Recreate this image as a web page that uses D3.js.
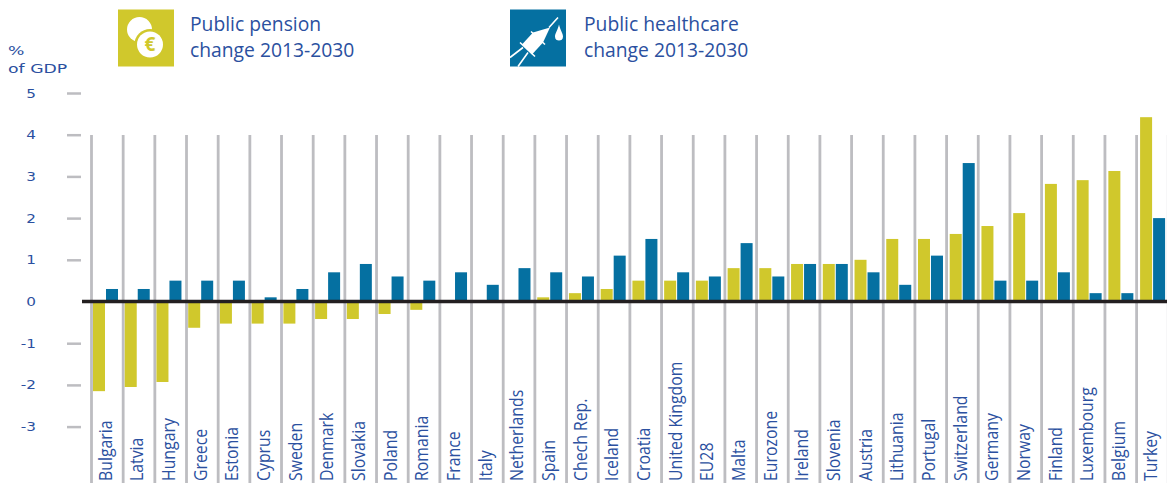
<!DOCTYPE html>
<html>
<head>
<meta charset="utf-8">
<script src="https://cdn.jsdelivr.net/npm/d3@7"></script>
<style>
  html, body { margin: 0; padding: 0; background: #fff; overflow: hidden; }
  text { font-family: "Open Sans", sans-serif; fill: #2b50a0; }
</style>
</head>
<body>
<script>
// values, % of GDP
var countries = ["Bulgaria","Latvia","Hungary","Greece","Estonia","Cyprus","Sweden","Denmark","Slovakia","Poland","Romania","France","Italy","Netherlands","Spain","Chech Rep.","Iceland","Croatia","United Kingdom","EU28","Malta","Eurozone","Ireland","Slovenia","Austria","Lithuania","Portugal","Switzerland","Germany","Norway","Finland","Luxembourg","Belgium","Turkey"];
var pension = [-2.15,-2.05,-1.93,-0.63,-0.53,-0.53,-0.53,-0.42,-0.42,-0.3,-0.2,0,0,0,0.1,0.2,0.3,0.5,0.5,0.5,0.8,0.8,0.9,0.9,1,1.5,1.5,1.62,1.81,2.12,2.82,2.91,3.13,4.42];
var health = [0.3,0.3,0.5,0.5,0.5,0.1,0.3,0.7,0.9,0.6,0.5,0.7,0.4,0.8,0.7,0.6,1.1,1.5,0.7,0.6,1.4,0.6,0.9,0.9,0.7,0.4,1.1,3.32,0.5,0.5,0.7,0.2,0.2,2];
var yTicks = [5,4,3,2,1,0,-1,-2,-3];
var legendLabels = [["Public pension","change 2013-2030"],["Public healthcare","change 2013-2030"]];

const width = 1167, height = 483;
const yellow = "#d0c82c", blue = "#0570a1", grey = "#bdbdc1";

const svg = d3.select("body").append("svg")
  .attr("width", width)
  .attr("height", height);

const y = d3.scaleLinear().domain([0, 5]).range([301.5, 93]);

// separators and bars drift slightly apart in the original, so two scales
const xSep = d3.scaleBand().domain(countries).range([91.5, 91.5 + 31.67 * 34]);
const xBar = d3.scaleBand().domain(countries).range([93, 93 + 31.73 * 34]);

// vertical separators
svg.selectAll("line.sep")
  .data(countries.concat(["end"]))
  .enter().append("line")
  .attr("class", "sep")
  .attr("x1", function(d, i) { return i < 34 ? xSep(d) : 91.5 + 31.67 * 34; })
  .attr("x2", function(d, i) { return i < 34 ? xSep(d) : 91.5 + 31.67 * 34; })
  .attr("y1", 135)
  .attr("y2", height)
  .attr("stroke", grey)
  .attr("stroke-width", 2.8);

// bars
svg.selectAll("rect.pension")
  .data(pension)
  .enter().append("rect")
  .attr("class", "pension")
  .attr("x", function(d, i) { return xBar(countries[i]); })
  .attr("y", function(d) { return y(Math.max(d, 0)); })
  .attr("width", 12)
  .attr("height", function(d) { return Math.abs(y(d) - y(0)); })
  .attr("fill", yellow);

svg.selectAll("rect.health")
  .data(health)
  .enter().append("rect")
  .attr("class", "health")
  .attr("x", function(d, i) { return xBar(countries[i]) + 13; })
  .attr("y", function(d) { return y(d); })
  .attr("width", 12)
  .attr("height", function(d) { return y(0) - y(d); })
  .attr("fill", blue);

// zero line
svg.append("line")
  .attr("x1", 82).attr("x2", width)
  .attr("y1", y(0)).attr("y2", y(0))
  .attr("stroke", "#231f20")
  .attr("stroke-width", 3.6);

// y axis, plain hyphen on the negatives like the original
const axis = svg.append("g")
  .attr("transform", "translate(81,0)")
  .call(d3.axisLeft(y).tickValues(yTicks).tickSize(14).tickFormat(String));
axis.select(".domain").remove();
axis.selectAll(".tick line")
  .attr("stroke", grey)
  .attr("stroke-width", 2.5)
  .attr("display", function(d) { return d === 0 ? "none" : null; });
axis.selectAll(".tick text")
  .attr("x", 0)
  .attr("transform", "translate(-45,0) scale(1.22,1)")
  .style("font-family", "'DejaVu Sans', sans-serif")
  .style("font-size", "12.5px")
  .style("fill", "#2b50a0");

svg.append("text").attr("transform", "translate(8,55) scale(1.33,1)").attr("font-size", 13)
  .style("font-family", "'DejaVu Sans', sans-serif").text("%");
svg.append("text").attr("transform", "translate(8,73) scale(1.33,1)").attr("font-size", 13)
  .style("font-family", "'DejaVu Sans', sans-serif").text("of GDP");

// country labels, condensed
svg.selectAll("text.country")
  .data(countries)
  .enter().append("text")
  .attr("class", "country")
  .attr("transform", function(d) {
    return "translate(" + (xSep(d) + 20) + ",481) rotate(-90) scale(0.88,1)";
  })
  .attr("font-size", 18)
  .text(function(d) { return d; });

// legend
const legendX = [118, 510];
const legendColor = [yellow, blue];
const legend = svg.selectAll("g.legend")
  .data(legendLabels)
  .enter().append("g")
  .attr("class", "legend")
  .attr("transform", function(d, i) { return "translate(" + legendX[i] + ",9.5)"; });

legend.append("rect")
  .attr("width", 56).attr("height", 57)
  .attr("fill", function(d, i) { return legendColor[i]; });

legend.each(function(d, i) {
  d3.select(this).selectAll("text")
    .data(d)
    .enter().append("text")
    .attr("x", i === 0 ? 72 : 74)
    .attr("y", function(t, j) { return 21 + j * 26.5; })
    .attr("font-size", 19.3)
    .text(function(t) { return t; });
});

// coin icon
const coin = legend.filter(function(d, i) { return i === 0; });
coin.append("circle").attr("cx", 21.5).attr("cy", 20).attr("r", 12.5).attr("fill", "#fff");
coin.append("circle").attr("cx", 32).attr("cy", 35).attr("r", 15.5).attr("fill", yellow);
coin.append("circle").attr("cx", 32).attr("cy", 35).attr("r", 13).attr("fill", "#fff");
coin.append("text")
  .attr("x", 32).attr("y", 41.5)
  .attr("text-anchor", "middle")
  .attr("font-size", 19).attr("font-weight", 700)
  .style("fill", yellow)
  .text("€");

// syringe icon
const syringe = legend.filter(function(d, i) { return i === 1; });
syringe.append("path")
  .attr("fill", "#fff")
  .attr("d", "M23 23 L40 18 L33 33 L22 45 L12 35 Z");
syringe.append("path")
  .attr("fill", "none").attr("stroke", "#fff").attr("stroke-width", 1.6)
  .attr("d", "M39 18 L48 8 M21 22 L35 35 M10 33 L25 47 M13 38 L0 48 M18 43 L8 57");
syringe.append("path")
  .attr("fill", "#fff")
  .attr("d", "M49 15 C48 20 45 24 45 27 C45 30 47 31 49 31 C51 31 53 30 53 27 C53 24 50 20 49 15 Z");
</script>
</body>
</html>
